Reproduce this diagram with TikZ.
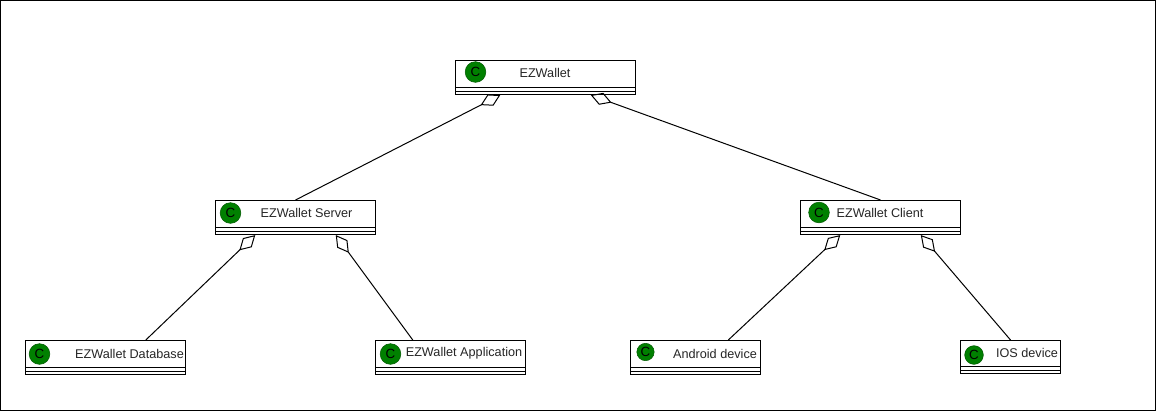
\documentclass[tikz,border=0pt]{standalone}
\usepackage{fontspec}
\setmainfont{Liberation Sans}
\usetikzlibrary{arrows.meta,calc}

\definecolor{iconGreen}{HTML}{008000}

\tikzset{
	classbox/.style={draw, fill=white, line width=0.8pt, minimum height=25.5pt, inner sep=0pt},
	classicon/.style={circle, draw=iconGreen!70!black, fill=iconGreen, line width=0.4pt, minimum width=15.5pt, inner sep=0pt, font=\fontsize{10}{10}\selectfont},
	classname/.style={inner sep=0pt, font=\fontsize{9.5}{9.5}\selectfont, text=black!85},
	partof/.style={{Diamond[open, length=16.5pt, width=9.5pt]}-, line width=0.75pt}
}

\begin{document}
\begin{tikzpicture}[x=0.75pt, y=-0.75pt]
		\useasboundingbox (0,0) rectangle (1156,411);
		\draw[line width=1.2pt] (0.5,0.5) rectangle (1155.5,410.5);

		% Classes
		\node[classbox, anchor=north west, minimum width=135pt] (ezwallet) at (455,60) {};
		\node[classbox, anchor=north west, minimum width=120pt] (server) at (215,200) {};
		\node[classbox, anchor=north west, minimum width=120pt] (client) at (800,200) {};
		\node[classbox, anchor=north west, minimum width=120pt] (database) at (25,340) {};
		\node[classbox, anchor=north west, minimum width=112.5pt] (application) at (375,340) {};
		\node[classbox, anchor=north west, minimum width=97.5pt] (android) at (630,340) {};
		\node[classbox, anchor=north west, minimum width=75pt, minimum height=24.75pt] (ios) at (960,340) {};

		% Dividers
		\foreach \cls in {ezwallet,server,client,database,application,android,ios}{
			\draw[line width=0.75pt] ($(\cls.south west)+(0,-3.5)$) -- ($(\cls.south east)+(0,-3.5)$);
			\draw[line width=0.75pt] ($(\cls.south west)+(0,-7.5)$) -- ($(\cls.south east)+(0,-7.5)$);
		}

		% Icons
		\node[classicon] (ezwalletC) at (475.5,72) {C};
		\node[classicon] (serverC) at (230.5,213) {C};
		\node[classicon] (clientC) at (819,212.5) {C};
		\node[classicon] (databaseC) at (39.5,354) {C};
		\node[classicon] (applicationC) at (390.5,354) {C};
		\node[classicon, minimum width=13pt] (androidC) at (645.5,352) {C};
		\node[classicon, minimum width=14pt] (iosC) at (974,355) {C};

		% Names
		\node[classname] (ezwalletT) at (545,73) {EZWallet};
		\node[classname] (serverT) at (306.5,213) {EZWallet Server};
		\node[classname] (clientT) at (880,213) {EZWallet Client};
		\node[classname] (databaseT) at (129.5,354) {EZWallet Database};
		\node[classname] (applicationT) at (464,353.5) {EZWallet Application};
		\node[classname] (androidT) at (715,353.5) {Android device};
		\node[classname] (iosT) at (1027,352.5) {IOS device};

		% Aggregations
		\draw[partof] ($(ezwallet.south west)!.25!(ezwallet.south east)$) -- (server.north);
		\draw[partof] ($(ezwallet.south west)!.75!(ezwallet.south east)$) -- (client.north);
		\draw[partof] ($(server.south west)!.25!(server.south east)$) -- ($(database.north west)!.75!(database.north east)$);
		\draw[partof] ($(server.south west)!.75!(server.south east)$) -- ($(application.north west)!.25!(application.north east)$);
		\draw[partof] ($(client.south west)!.25!(client.south east)$) -- ($(android.north west)!.75!(android.north east)$);
		\draw[partof] ($(client.south west)!.75!(client.south east)$) -- (ios.north);
	\end{tikzpicture}
\end{document}
